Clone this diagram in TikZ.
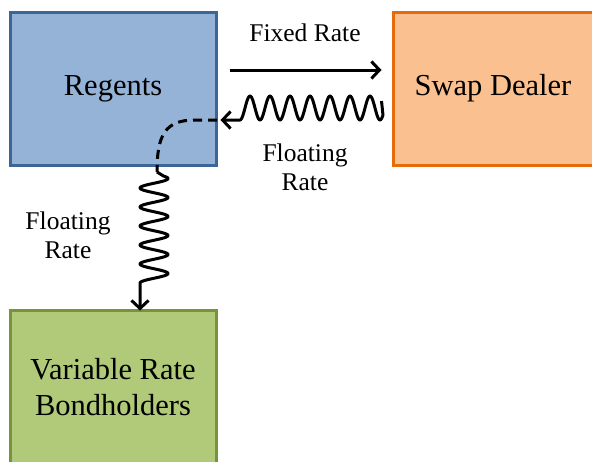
\documentclass[tikz,border=0pt]{standalone}
\usepackage{fontspec}
\setmainfont{Liberation Serif}
\usetikzlibrary{arrows.meta}
\definecolor{regfill}{HTML}{95B3D7}
\definecolor{regline}{HTML}{3E6597}
\definecolor{swapfill}{HTML}{FAC090}
\definecolor{swapline}{HTML}{E46C0A}
\definecolor{bondfill}{HTML}{B1CA7A}
\definecolor{bondline}{HTML}{77933C}
\tikzset{
  party/.style={draw, line width=3pt, inner sep=0pt, align=center,
    font=\fontsize{30.5}{36}\selectfont},
  flow/.style={line width=3pt, -{Straight Barb[length=8pt,width=17pt,line width=3pt]}},
  lbl/.style={align=center, font=\fontsize{25.5}{29}\selectfont},
}
\begin{document}
\begin{tikzpicture}[x=1pt, y=-1pt]
\useasboundingbox (0,0) rectangle (592,461);
% parties
\node[party, fill=regfill, draw=regline, minimum width=206pt, minimum height=153pt]
  (reg) at (113,88.5) {Regents};
\node[party, fill=swapfill, draw=swapline, minimum width=200pt, minimum height=153pt]
  (swap) at (493,88.5) {Swap Dealer};
\node[party, fill=bondfill, draw=bondline, minimum width=206pt, minimum height=154pt]
  (bond) at (113,387) {Variable Rate\\Bondholders};
% anchor points of the flows
\coordinate (fixA) at ([xshift=12pt]reg.east |- 0,70);
\coordinate (fixB) at ([xshift=-10pt]swap.west |- 0,70);
\coordinate (flA) at ([xshift=-10pt]swap.west |- 0,101);
\coordinate (flB) at ([xshift=3pt]reg.east |- 0,120);
\coordinate (dashA) at (217,120);
\coordinate (dashB) at (157,172);
\coordinate (vwEnd) at (140,283);
\coordinate (vwTip) at (bond.north -| 140,0);
% fixed rate
\draw[flow] (fixA) -- (fixB);
\node[lbl] (fixlbl) at (305,33) {Fixed Rate};
% floating rate from the dealer
\draw[flow, line join=round] (flA) -- plot[domain=383:240, samples=240]
  (\x, {108+12*cos(18*(\x-240))}) -- (flB);
\node[lbl] (fl1) at (305,167) {Floating\\Rate};
% floating rate passed on to the bondholders
\draw[line width=3pt, dash pattern=on 9pt off 6pt]
  (dashA) -- (195,120) .. controls (165,120) and (157,135) .. (dashB);
\draw[flow, line join=round] (dashB) -- plot[domain=176:283, samples=240]
  ({154-14*cos(18.947*(283-\x))}, \x) -- (vwEnd) -- ([yshift=-2pt]vwTip);
\node[lbl] (fl2) at (68,235) {Floating\\Rate};
\end{tikzpicture}
\end{document}
